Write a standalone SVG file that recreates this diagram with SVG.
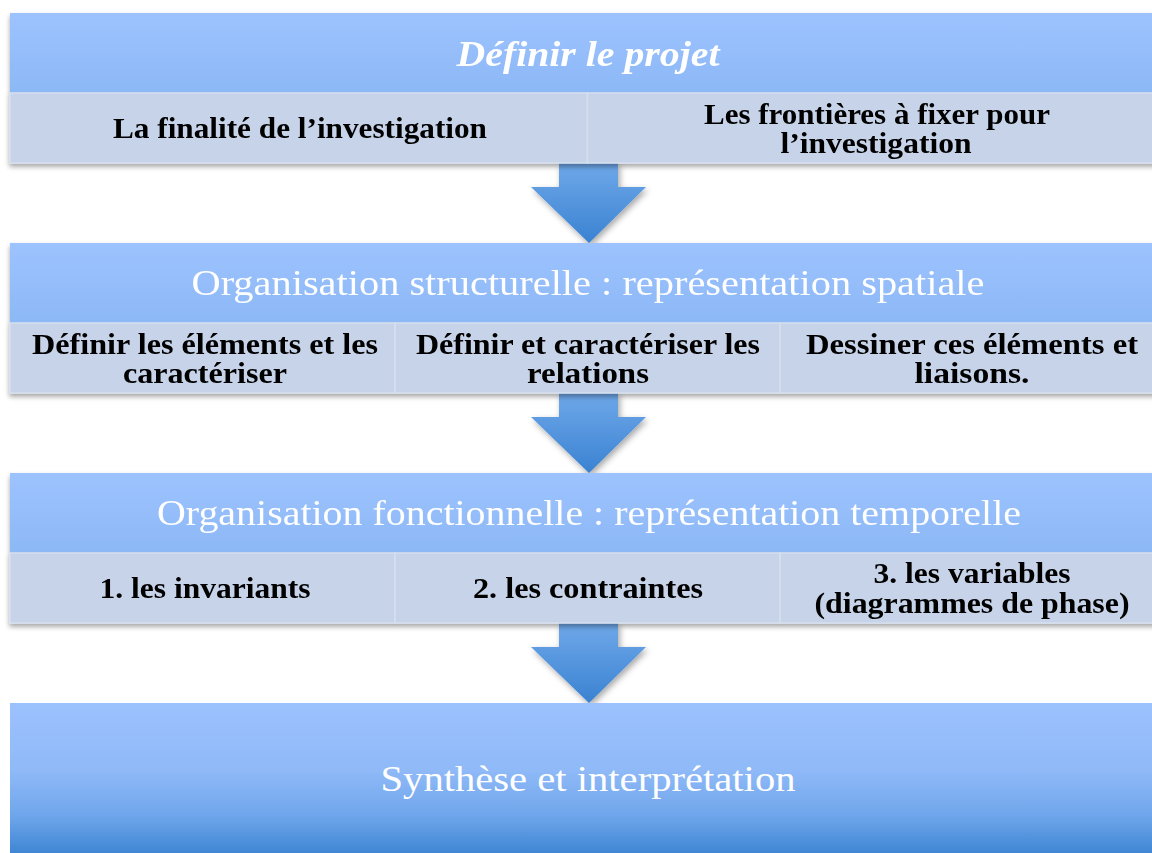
<svg xmlns="http://www.w3.org/2000/svg" width="1152" height="853" viewBox="0 0 1152 853">
<defs>
<linearGradient id="hdr" x1="0" y1="0" x2="0" y2="1">
<stop offset="0" stop-color="#9DC3FE"/>
<stop offset="1" stop-color="#8CB8F6"/>
</linearGradient>
<linearGradient id="big" x1="0" y1="0" x2="0" y2="1">
<stop offset="0" stop-color="#9CC2FE"/>
<stop offset="0.45" stop-color="#8FB9F7"/>
<stop offset="0.75" stop-color="#6FA6EB"/>
<stop offset="1" stop-color="#3F86D3"/>
</linearGradient>
<linearGradient id="arr" x1="0" y1="0" x2="0" y2="1">
<stop offset="0" stop-color="#6FA8E9"/>
<stop offset="1" stop-color="#3A82D2"/>
</linearGradient>
<filter id="sh" x="-5%" y="-20%" width="110%" height="150%">
<feDropShadow dx="0" dy="3" stdDeviation="2.5" flood-color="#000" flood-opacity="0.35"/>
</filter>
<filter id="ash" x="-20%" y="-20%" width="150%" height="150%">
<feDropShadow dx="2" dy="3" stdDeviation="3" flood-color="#000" flood-opacity="0.35"/>
</filter>
<path id="arrow" d="M-30,0 H29 V24 H57 L0,80 L-58,24 H-30 Z"/>
</defs>
<style>
.hdr{fill:url(#hdr);}
.cell{fill:#C7D3E8;stroke:#D6DFEE;stroke-width:1.5;}
.ht{font-family:"Liberation Serif",serif;fill:#FFFFFF;font-size:35px;text-anchor:middle;}
.ct{font-family:"Liberation Serif",serif;fill:#000000;font-size:29px;font-weight:bold;text-anchor:middle;}
</style>
<rect width="1152" height="853" fill="#FFFFFF"/>

<g id="connectors" fill="url(#arr)" filter="url(#ash)">
<use href="#arrow" x="589" y="163"/>
<use href="#arrow" x="589" y="393"/>
<use href="#arrow" x="589" y="623"/>
</g>

<g id="block1" filter="url(#sh)">
<rect class="hdr" x="10" y="13" width="1155" height="80"/>
<text class="ht" x="588" y="66" font-weight="bold" font-style="italic" textLength="263" lengthAdjust="spacingAndGlyphs">Définir le projet</text>
<g id="b1c1">
<rect class="cell" x="10" y="93" width="577.5" height="70"/>
<text class="ct" x="300" y="138" textLength="374" lengthAdjust="spacingAndGlyphs">La finalité de l’investigation</text>
</g>
<g id="b1c2">
<rect class="cell" x="587.5" y="93" width="577.5" height="70"/>
<text class="ct" x="877" y="124" textLength="346" lengthAdjust="spacingAndGlyphs">Les frontières à fixer pour</text>
<text class="ct" x="876" y="153" textLength="191" lengthAdjust="spacingAndGlyphs">l’investigation</text>
</g>
</g>

<g id="block2" filter="url(#sh)">
<rect class="hdr" x="10" y="243" width="1155" height="80"/>
<text class="ht" x="588" y="295" textLength="793" lengthAdjust="spacingAndGlyphs">Organisation structurelle : représentation spatiale</text>
<g id="b2c1">
<rect class="cell" x="10" y="323" width="385" height="70"/>
<text class="ct" x="205" y="354" textLength="346" lengthAdjust="spacingAndGlyphs">Définir les éléments et les</text>
<text class="ct" x="205" y="383" textLength="164" lengthAdjust="spacingAndGlyphs">caractériser</text>
</g>
<g id="b2c2">
<rect class="cell" x="395" y="323" width="385" height="70"/>
<text class="ct" x="588" y="354" textLength="344" lengthAdjust="spacingAndGlyphs">Définir et caractériser les</text>
<text class="ct" x="588" y="383" textLength="122" lengthAdjust="spacingAndGlyphs">relations</text>
</g>
<g id="b2c3">
<rect class="cell" x="780" y="323" width="385" height="70"/>
<text class="ct" x="972" y="354" textLength="332" lengthAdjust="spacingAndGlyphs">Dessiner ces éléments et</text>
<text class="ct" x="972" y="383" textLength="115" lengthAdjust="spacingAndGlyphs">liaisons.</text>
</g>
</g>

<g id="block3" filter="url(#sh)">
<rect class="hdr" x="10" y="473" width="1155" height="80"/>
<text class="ht" x="589" y="525" textLength="864" lengthAdjust="spacingAndGlyphs">Organisation fonctionnelle : représentation temporelle</text>
<g id="b3c1">
<rect class="cell" x="10" y="553" width="385" height="70"/>
<text class="ct" x="205" y="598" textLength="211" lengthAdjust="spacingAndGlyphs">1. les invariants</text>
</g>
<g id="b3c2">
<rect class="cell" x="395" y="553" width="385" height="70"/>
<text class="ct" x="588" y="598" textLength="230" lengthAdjust="spacingAndGlyphs">2. les contraintes</text>
</g>
<g id="b3c3">
<rect class="cell" x="780" y="553" width="385" height="70"/>
<text class="ct" x="972" y="583" textLength="197" lengthAdjust="spacingAndGlyphs">3. les variables</text>
<text class="ct" x="972" y="613" textLength="315" lengthAdjust="spacingAndGlyphs">(diagrammes de phase)</text>
</g>
</g>

<g id="block4">
<rect x="10" y="703" width="1155" height="150" fill="url(#big)"/>
<text class="ht" x="588" y="791" textLength="415" lengthAdjust="spacingAndGlyphs">Synthèse et interprétation</text>
</g>
</svg>
